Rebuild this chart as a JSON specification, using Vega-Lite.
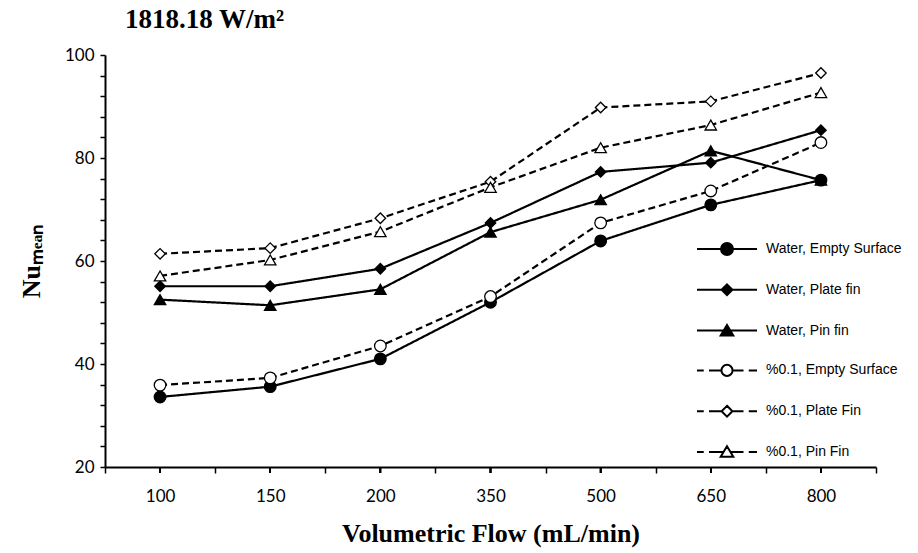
{
  "$schema": "https://vega.github.io/schema/vega-lite/v6.json",
  "width": 771,
  "height": 412,
  "autosize": "none",
  "padding": {"left": 105, "top": 55, "right": 42, "bottom": 86},
  "background": "white",
  "title": {"text": "1818.18 W/m²", "anchor": "start", "frame": "group", "font": "Liberation Serif", "fontSize": 27, "fontWeight": "bold", "color": "black", "dx": 20, "offset": 12},
  "config": {
    "view": {"stroke": null},
    "axis": {"domainColor": "black", "domainWidth": 2, "tickColor": "black", "tickWidth": 1.5, "labelColor": "black", "labelFont": "Lato", "labelFontSize": 17, "titleColor": "black", "titleFont": "Liberation Serif", "titleFontSize": 26, "titleFontWeight": "bold", "grid": false}
  },
  "data": {"values": [
    {"flow": 100, "series": "Water, Empty Surface", "nu": 33.6},
    {"flow": 150, "series": "Water, Empty Surface", "nu": 35.6},
    {"flow": 200, "series": "Water, Empty Surface", "nu": 41.0},
    {"flow": 350, "series": "Water, Empty Surface", "nu": 52.0},
    {"flow": 500, "series": "Water, Empty Surface", "nu": 63.9},
    {"flow": 650, "series": "Water, Empty Surface", "nu": 70.9},
    {"flow": 800, "series": "Water, Empty Surface", "nu": 75.7},
    {"flow": 100, "series": "Water, Plate fin", "nu": 55.1},
    {"flow": 150, "series": "Water, Plate fin", "nu": 55.1},
    {"flow": 200, "series": "Water, Plate fin", "nu": 58.5},
    {"flow": 350, "series": "Water, Plate fin", "nu": 67.4},
    {"flow": 500, "series": "Water, Plate fin", "nu": 77.3},
    {"flow": 650, "series": "Water, Plate fin", "nu": 79.1},
    {"flow": 800, "series": "Water, Plate fin", "nu": 85.4},
    {"flow": 100, "series": "Water, Pin fin", "nu": 52.5},
    {"flow": 150, "series": "Water, Pin fin", "nu": 51.4},
    {"flow": 200, "series": "Water, Pin fin", "nu": 54.5},
    {"flow": 350, "series": "Water, Pin fin", "nu": 65.6},
    {"flow": 500, "series": "Water, Pin fin", "nu": 71.9},
    {"flow": 650, "series": "Water, Pin fin", "nu": 81.4},
    {"flow": 800, "series": "Water, Pin fin", "nu": 75.7},
    {"flow": 100, "series": "%0.1, Empty Surface", "nu": 35.9},
    {"flow": 150, "series": "%0.1, Empty Surface", "nu": 37.3},
    {"flow": 200, "series": "%0.1, Empty Surface", "nu": 43.5},
    {"flow": 350, "series": "%0.1, Empty Surface", "nu": 53.1},
    {"flow": 500, "series": "%0.1, Empty Surface", "nu": 67.4},
    {"flow": 650, "series": "%0.1, Empty Surface", "nu": 73.6},
    {"flow": 800, "series": "%0.1, Empty Surface", "nu": 83.0},
    {"flow": 100, "series": "%0.1, Plate Fin", "nu": 61.4},
    {"flow": 150, "series": "%0.1, Plate Fin", "nu": 62.5},
    {"flow": 200, "series": "%0.1, Plate Fin", "nu": 68.3},
    {"flow": 350, "series": "%0.1, Plate Fin", "nu": 75.4},
    {"flow": 500, "series": "%0.1, Plate Fin", "nu": 89.8},
    {"flow": 650, "series": "%0.1, Plate Fin", "nu": 91.0},
    {"flow": 800, "series": "%0.1, Plate Fin", "nu": 96.5},
    {"flow": 100, "series": "%0.1, Pin Fin", "nu": 57.1},
    {"flow": 150, "series": "%0.1, Pin Fin", "nu": 60.2},
    {"flow": 200, "series": "%0.1, Pin Fin", "nu": 65.7},
    {"flow": 350, "series": "%0.1, Pin Fin", "nu": 74.3},
    {"flow": 500, "series": "%0.1, Pin Fin", "nu": 82.0},
    {"flow": 650, "series": "%0.1, Pin Fin", "nu": 86.4},
    {"flow": 800, "series": "%0.1, Pin Fin", "nu": 92.7}
  ]},
  "encoding": {
    "x": {"field": "flow", "type": "ordinal", "scale": {"paddingInner": 0, "paddingOuter": 0},
          "axis": {"title": "Volumetric Flow (mL/min)", "labelAngle": 0, "tickBand": "extent", "tickSize": 6, "labelPadding": 15, "titlePadding": 16}},
    "y": {"field": "nu", "type": "quantitative", "scale": {"domain": [20, 100], "nice": false},
          "axis": {"title": "Nuₘₑₐₙ", "values": [20,24,28,32,36,40,44,48,52,56,60,64,68,72,76,80,84,88,92,96,100], "labelExpr": "datum.value % 20 === 0 ? datum.label : ''", "labelOverlap": false, "tickSize": 5, "labelPadding": 6, "titlePadding": 20}}
  },
  "layer": [
    {
      "mark": {"type": "rule", "color": "black", "strokeWidth": 1.5},
      "encoding": {
        "y": {"datum": 20},
        "y2": {"datum": 18.83}
      }
    },
    {
      "mark": {"type": "line", "color": "black", "strokeWidth": 2.2},
      "encoding": {
        "strokeDash": {"field": "series", "type": "nominal",
                       "scale": {"domain": ["%0.1, Empty Surface", "%0.1, Plate Fin", "%0.1, Pin Fin", "Water, Empty Surface", "Water, Plate fin", "Water, Pin fin"],
                                 "range": [[7, 4], [7, 4], [7, 4], [1, 0], [1, 0], [1, 0]]},
                       "legend": null}
      }
    },
    {
      "transform": [{"filter": "indexof(datum.series, 'Empty') >= 0"}],
      "mark": {"type": "point", "shape": "circle", "size": 135, "stroke": "black", "strokeWidth": 1.3, "opacity": 1},
      "encoding": {
        "fill": {"condition": {"test": "indexof(datum.series, '%') === 0", "value": "white"}, "value": "black"}
      }
    },
    {
      "transform": [{"filter": "indexof(datum.series, 'Plate') >= 0"}],
      "mark": {"type": "point", "shape": "diamond", "size": 110, "stroke": "black", "strokeWidth": 1.3, "opacity": 1},
      "encoding": {
        "fill": {"condition": {"test": "indexof(datum.series, '%') === 0", "value": "white"}, "value": "black"}
      }
    },
    {
      "transform": [{"filter": "indexof(datum.series, 'Pin') >= 0"}],
      "mark": {"type": "point", "shape": "triangle-up", "size": 130, "stroke": "black", "strokeWidth": 1.3, "opacity": 1},
      "encoding": {
        "fill": {"condition": {"test": "indexof(datum.series, '%') === 0", "value": "white"}, "value": "black"}
      }
    },
    {
      "mark": {"type": "point", "filled": false, "size": 0, "strokeWidth": 2},
      "encoding": {
        "shape": {"field": "series", "type": "nominal",
                  "scale": {"domain": ["Water, Empty Surface", "Water, Plate fin", "Water, Pin fin", "%0.1, Empty Surface", "%0.1, Plate Fin", "%0.1, Pin Fin"],
                            "range": [
                              "M-2,0H2M0.4,0A0.4,0.4 0 1,1 -0.4,0A0.4,0.4 0 1,1 0.4,0Z",
                              "M-2,0H2M0,-0.36L0.36,0L0,0.36L-0.36,0Z",
                              "M-2,0H2M0,-0.38L0.42,0.32L-0.42,0.32Z",
                              "M-2,0H-1.55M-1.2,0H-0.37M0.37,0H1.1M1.45,0H2M0.37,0A0.37,0.37 0 1,1 -0.37,0A0.37,0.37 0 1,1 0.37,0Z",
                              "M-2,0H-1.55M-1.2,0H-0.36M0.36,0H1.1M1.45,0H2M0,-0.36L0.36,0L0,0.36L-0.36,0Z",
                              "M-2,0H-1.55M-1.2,0H-0.22M0.22,0H1.1M1.45,0H2M0,-0.38L0.42,0.32L-0.42,0.32Z"
                            ]},
                  "legend": {"title": null, "orient": "none", "legendX": 606, "legendY": 178, "symbolSize": 900, "symbolStrokeColor": "black", "symbolStrokeWidth": 2, "symbolOpacity": 1, "labelFontSize": 14, "labelColor": "black", "labelLimit": 300, "labelOffset": 23, "rowPadding": 14.8}},
        "fill": {"field": "series", "type": "nominal",
                 "scale": {"domain": ["Water, Empty Surface", "Water, Plate fin", "Water, Pin fin", "%0.1, Empty Surface", "%0.1, Plate Fin", "%0.1, Pin Fin"],
                           "range": ["black", "black", "black", "white", "white", "white"]},
                 "legend": {"title": null, "orient": "none", "legendX": 606, "legendY": 178, "symbolSize": 900, "symbolStrokeColor": "black", "symbolStrokeWidth": 2, "symbolOpacity": 1, "labelFontSize": 14, "labelColor": "black", "labelLimit": 300, "labelOffset": 23, "rowPadding": 14.8}},
        "stroke": {"field": "series", "type": "nominal",
                   "scale": {"domain": ["Water, Empty Surface", "Water, Plate fin", "Water, Pin fin", "%0.1, Empty Surface", "%0.1, Plate Fin", "%0.1, Pin Fin"],
                             "range": ["black", "black", "black", "black", "black", "black"]},
                   "legend": {"title": null, "orient": "none", "legendX": 606, "legendY": 178, "symbolSize": 900, "symbolStrokeColor": "black", "symbolStrokeWidth": 2, "symbolOpacity": 1, "labelFontSize": 14, "labelColor": "black", "labelLimit": 300, "labelOffset": 23, "rowPadding": 14.8}}
      }
    }
  ]
}
